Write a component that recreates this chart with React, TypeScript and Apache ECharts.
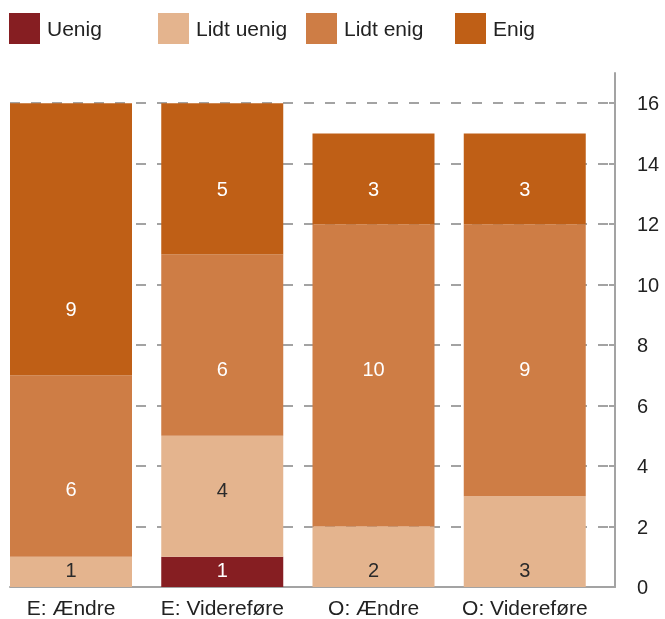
import React, { useEffect, useRef } from "react";
import * as echarts from "echarts";

const categories = ["E: Ændre", "E: Videreføre", "O: Ændre", "O: Videreføre"];
const seriesNames = ["Uenig", "Lidt uenig", "Lidt enig", "Enig"];
const uenig = [null, 1, null, null];
const lidtUenig = [1, 4, 2, 3];
const lidtEnig = [6, 6, 10, 9];
const enig = [9, 5, 3, 3];
const yTicks = [0, 2, 4, 6, 8, 10, 12, 14, 16];

// label anchor heights (in axis units) used by the original layout for the value labels
const labelRowUenig = [0.55, 0.55, 0.55, 0.55];
const labelRowLidtUenig = [0.55, 3.2, 0.55, 0.55];
const labelRowLidtEnig = [3.24, 7.21, 7.21, 7.21];
const labelRowEnig = [9.19, 13.16, 13.16, 13.16];

const colors = ["#861E22", "#E4B48E", "#CE7D45", "#BF5F16"];
const labelColors = ["#ffffff", "#2a2a2a", "#ffffff", "#ffffff"];
const FONT = "Liberation Sans, Arial, sans-serif";
const GRAY = "#a3a3a3";

export default function App() {
  const ref = useRef<HTMLDivElement>(null);
  useEffect(() => {
    if (!ref.current) return;
    const chart = echarts.init(ref.current, undefined, { renderer: "svg" });
    const values = [uenig, lidtUenig, lidtEnig, enig];
    const rows = [labelRowUenig, labelRowLidtUenig, labelRowLidtEnig, labelRowEnig];
    const legendLefts = [9, 158, 306, 455];
    const buildSeries = (offsets: number[][] | null) => {
      const s: any[] = seriesNames.map((name, i) => ({
        name,
        type: "bar",
        stack: "total",
        barWidth: 122,
        barGap: "0%",
        barCategoryGap: "0%",
        data: values[i].map((v, j) => ({
          value: v,
          label: offsets ? { offset: [0, offsets[i][j]] } : undefined,
        })),
        itemStyle: { color: colors[i] },
        emphasis: { disabled: true },
        label: {
          show: true,
          position: "inside",
          color: labelColors[i],
          fontSize: 20,
          fontFamily: FONT,
          formatter: (p: any) => (p.value == null ? "" : String(p.value)),
        },
      }));
      s.push({
        name: "spacer",
        type: "bar",
        stack: "spacer",
        barWidth: 29.25,
        data: categories.map(() => null),
        silent: true,
      });
      return s;
    };
    chart.setOption({
      animation: false,
      textStyle: { fontFamily: FONT },
      legend: seriesNames.map((n, i) => ({
        data: [n],
        left: legendLefts[i],
        top: 13,
        padding: 0,
        itemWidth: 31,
        itemHeight: 31,
        icon: "rect",
        selectedMode: false,
        textStyle: { fontSize: 21, color: "#222", fontFamily: FONT, padding: [0, 0, 0, 2] },
      })),
      grid: { left: 10, right: 50, top: 73, bottom: 32, containLabel: false },
      xAxis: {
        type: "category",
        data: categories,
        axisLine: { show: true, lineStyle: { color: GRAY, width: 2 } },
        axisTick: { show: false },
        axisLabel: {
          interval: 0,
          fontSize: 21,
          color: "#222",
          fontFamily: FONT,
          margin: 10,
          padding: [0, 29, 0, 0],
        },
      },
      yAxis: {
        type: "value",
        position: "right",
        min: 0,
        max: 17,
        interval: 2,
        axisLine: { show: true, lineStyle: { color: GRAY, width: 2 } },
        axisTick: {
          show: true,
          inside: true,
          length: 6,
          lineStyle: { color: GRAY, width: 2 },
          customValues: yTicks,
        },
        axisLabel: {
          fontSize: 20,
          color: "#222",
          fontFamily: FONT,
          margin: 22,
          customValues: yTicks,
        },
        splitLine: {
          show: true,
          lineStyle: { color: GRAY, width: 2, type: [10, 11] },
        },
      },
      series: buildSeries(null),
    });
    // compute label offsets through the chart's own scale
    const offsets = values.map((vals, i) =>
      vals.map((v, j) => {
        if (v == null) return 0;
        let base = 0;
        for (let k = 0; k < i; k++) base += (values[k][j] as number) || 0;
        const center = base + (v as number) / 2;
        const pc = chart.convertToPixel({ gridIndex: 0 }, [j, center]) as number[];
        const pa = chart.convertToPixel({ gridIndex: 0 }, [j, rows[i][j]]) as number[];
        return pa[1] - pc[1];
      })
    );
    chart.setOption({ series: buildSeries(offsets) });
    return () => chart.dispose();
  }, []);
  return (
    <div
      ref={ref}
      style={{ position: "fixed", left: 0, top: 0, width: 665, height: 619 }}
    />
  );
}
